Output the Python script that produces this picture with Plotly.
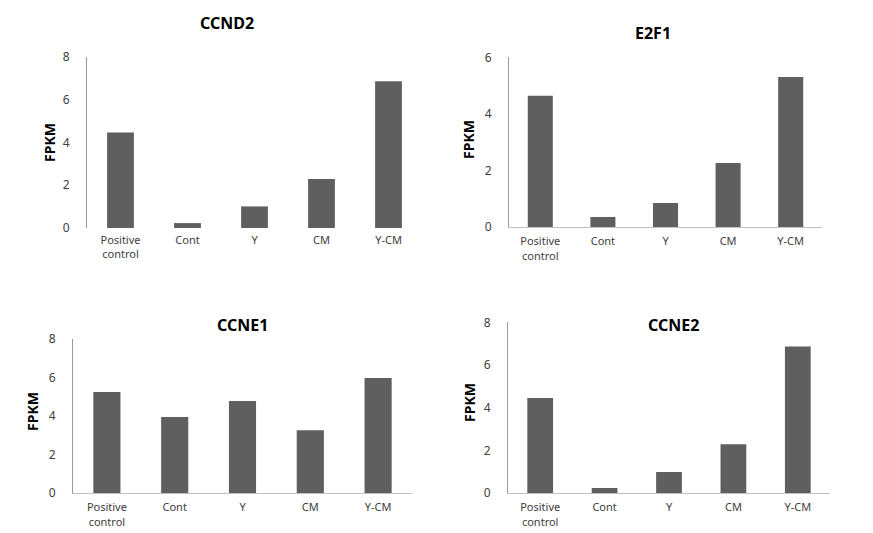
import plotly.graph_objects as go

categories = ["Positive<br>control", "Cont", "Y", "CM", "Y-CM"]
ccnd2 = [4.47, 0.23, 1.01, 2.29, 6.87]
e2f1 = [4.64, 0.35, 0.85, 2.26, 5.30]
ccne1 = [5.25, 3.95, 4.78, 3.26, 5.97]
ccne2 = [4.45, 0.23, 0.98, 2.28, 6.86]
titles = ["CCND2", "E2F1", "CCNE1", "CCNE2"]
yranges = [[0, 8], [0, 6], [0, 8], [0, 8]]
ydticks = [2, 2, 2, 2]

W, H = 873, 533
BAR = "#5f5f5f"
AX = "#9a9a9a"
TXT = "#404040"
FONT = "Noto Sans"

# panel boxes in pixels: (x0, x1, ytop, ybottom)
boxes = [(87, 422, 57, 228), (509, 822, 57.3, 227), (73, 412, 339, 493), (508, 830, 322.3, 493)]
title_pos = [(227, 23), (653, 33), (242, 325), (673, 325)]
ytitle_pos = [(49, 143), (469, 140), (32, 412), (469, 403)]
xline_visible = [False, True, True, True]

fig = go.Figure()
series = [ccnd2, e2f1, ccne1, ccne2]
for i, vals in enumerate(series):
    k = "" if i == 0 else str(i + 1)
    fig.add_trace(go.Bar(x=categories, y=vals, marker_color=BAR, marker_line_width=0,
                         xaxis="x" + k, yaxis="y" + k, showlegend=False))
    x0, x1, yt, yb = boxes[i]
    xd = [x0 / W, x1 / W]
    yd = [(H - yb) / H, (H - yt) / H]
    fig.layout["xaxis" + k] = dict(domain=xd, anchor="y" + k, showline=xline_visible[i],
                                   linecolor="#c0c0c0", linewidth=1, ticks="", showgrid=False,
                                   zeroline=False, automargin=False, ticklabelstandoff=4,
                                   tickfont=dict(family=FONT, size=11, color=TXT), fixedrange=True)
    fig.layout["yaxis" + k] = dict(domain=yd, anchor="x" + k, range=yranges[i], dtick=ydticks[i],
                                   showline=True, linecolor=AX, linewidth=1, ticks="",
                                   showgrid=False, zeroline=False, ticklabelstandoff=14,
                                   automargin=False,
                                   tickfont=dict(family=FONT, size=12, color=TXT))
    tx, ty = title_pos[i]
    fig.add_annotation(text="<b>" + titles[i] + "</b>", x=tx / W, y=(H - ty) / H, xref="paper",
                       yref="paper", showarrow=False, xanchor="center", yanchor="middle",
                       font=dict(family=FONT, size=16, color="#000000"))
    ax_, ay_ = ytitle_pos[i]
    fig.add_annotation(text="<b>FPKM</b>", x=ax_ / W, y=(H - ay_) / H, xref="paper",
                       yref="paper", showarrow=False, textangle=-90, xanchor="center",
                       yanchor="middle", font=dict(family=FONT, size=14, color="#000000"))

fig.update_layout(width=W, height=H, margin=dict(l=0, r=0, t=0, b=0),
                  paper_bgcolor="white", plot_bgcolor="white", bargap=0.6)
fig.write_html("out.html", config={"displayModeBar": False},
               post_script="document.body.style.margin='0';")
